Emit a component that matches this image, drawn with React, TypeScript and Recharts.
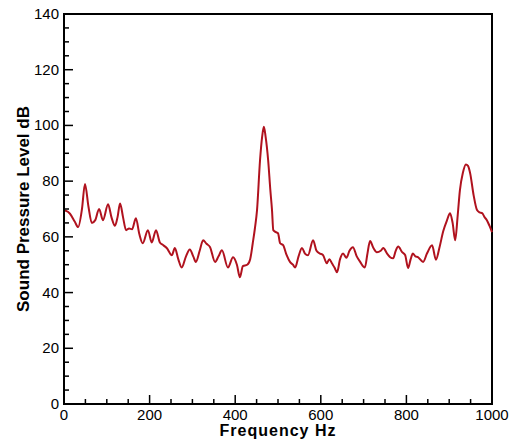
import React from "react";
import {
  LineChart,
  Line,
  XAxis,
  YAxis,
  ReferenceArea,
} from "recharts";

const frequency = [
  0, 5, 14, 25, 33, 42, 49, 57, 65, 73, 82, 91, 103, 111, 119, 125, 131, 138,
  145, 152, 159, 168, 176, 184, 196, 205, 215, 224, 232, 240, 252, 259, 267,
  275, 285, 294, 302, 308, 317, 325, 333, 341, 353, 361, 369, 383, 395, 404,
  411, 418, 428, 435, 441, 446, 451, 458, 463, 467, 471, 477, 482, 486, 489,
  495, 500, 505, 512, 520, 528, 535, 540, 548, 556, 563, 570, 582, 590, 598,
  605, 614, 620, 626, 632, 638, 645, 652, 660, 667, 675, 684, 692, 703, 709,
  715, 723, 731, 740, 746, 755, 762, 769, 775, 781, 790, 797, 804, 810, 815,
  821, 827, 839, 848, 860, 869, 877, 886, 895, 902, 908, 914, 920, 925, 932,
  939, 944, 949, 957, 965, 971, 977, 983, 988, 994, 1000,
];

const spl = [
  69.5, 69.3, 68.3, 65.5, 63.5, 70, 79, 71, 65, 66, 70, 66, 71.7, 67, 64, 67,
  72, 67, 62.4, 63, 62.7, 66.7, 61, 57.7, 62.4, 58, 62.4, 58, 57, 56, 53.4, 56,
  52, 49, 53, 55.5, 53, 51, 55, 58.8, 57.5, 56.4, 51, 53, 55.2, 49, 52.7, 50,
  45.5, 49.5, 50, 52, 57.7, 63, 69.6, 87.5, 96, 99.5, 96, 87.5, 77, 69.6, 62.4,
  61.7, 61.3, 57.7, 57, 53.5, 51, 50, 49, 53, 56, 54, 53.4, 58.8, 55, 54, 53.5,
  50.5, 52, 50.5, 49, 47.3, 52, 54, 52.5, 55, 56.3, 53, 51, 49, 54, 58.5, 56,
  54.5, 55, 56, 54, 52.7, 52.3, 55, 56.5, 54.5, 53.5, 48.8, 52, 54, 53, 52.7,
  51, 54, 57, 51.8, 56, 62, 66, 68.5, 65, 58.8, 68, 76.7, 83, 86, 85.5, 82.8,
  75, 69.6, 68.8, 68.5, 67, 66, 64, 61.7,
];

const xTicks = Array.from({ length: 21 }, (_, i) => i * 50);
const yTicks = Array.from({ length: 29 }, (_, i) => i * 5);

const data = frequency.map((f, i) => ({ f, db: spl[i] }));

const font = "'Liberation Sans', Arial, sans-serif";

const XTick = (props: any) => {
  const { x, y, payload } = props;
  const major = payload.value % 200 === 0;
  return (
    <g>
      <line x1={x} y1={y} x2={x} y2={y - (major ? 9 : 5)} stroke="#000" strokeWidth={1.5} />
      {major && (
        <text x={x} y={y + 16} textAnchor="middle" fontSize={15} fontFamily={font} fill="#000">
          {payload.value}
        </text>
      )}
    </g>
  );
};

const YTick = (props: any) => {
  const { x, y, payload } = props;
  const major = payload.value % 20 === 0;
  return (
    <g>
      <line x1={x} y1={y} x2={x + (major ? 9 : 5)} y2={y} stroke="#000" strokeWidth={1.5} />
      {major && (
        <text x={x - 5} y={y + 5} textAnchor="end" fontSize={15} fontFamily={font} fill="#000">
          {payload.value}
        </text>
      )}
    </g>
  );
};

export default function App() {
  return (
    <div style={{ position: "absolute", left: 0, top: 0, background: "#fff" }}>
      <LineChart
        width={514}
        height={441}
        data={data}
        margin={{ top: 14, right: 22, bottom: 0, left: 0 }}
      >
        <XAxis
          dataKey="f"
          type="number"
          domain={[0, 1000]}
          ticks={xTicks}
          interval={0}
          tickSize={0}
          tickMargin={0}
          tickLine={false}
          tick={<XTick />}
          height={37}
          axisLine={{ stroke: "#000", strokeWidth: 2 }}
          label={{
            value: "Frequency Hz",
            position: "insideBottom",
            offset: 5,
            style: { fontSize: 16, letterSpacing: 1, fontWeight: "bold", fontFamily: font, fill: "#000" },
          }}
        />
        <YAxis
          type="number"
          domain={[0, 140]}
          ticks={yTicks}
          interval={0}
          tickSize={0}
          tickMargin={0}
          tickLine={false}
          tick={<YTick />}
          width={64}
          axisLine={{ stroke: "#000", strokeWidth: 2 }}
          label={{
            value: "Sound Pressure Level dB",
            angle: -90,
            position: "insideLeft",
            offset: 23,
            style: { textAnchor: "middle", fontSize: 17, fontWeight: "bold", fontFamily: font, fill: "#000" },
          }}
        />
        <ReferenceArea x1={0} x2={1000} y1={0} y2={140} fill="none" stroke="#000" strokeWidth={2} />
        <Line
          type="monotone"
          dataKey="db"
          stroke="#b0121e"
          strokeWidth={2}
          dot={false}
          isAnimationActive={false}
        />
      </LineChart>
    </div>
  );
}
